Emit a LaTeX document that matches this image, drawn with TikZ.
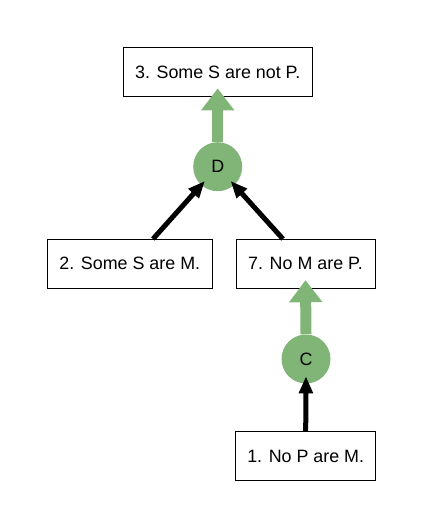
\documentclass[tikz,border=0pt]{standalone}
\usepackage{fontspec}
\setmainfont{Liberation Sans}
\usetikzlibrary{arrows.meta,calc}
\definecolor{gr}{HTML}{80B577}
\begin{document}
\begin{tikzpicture}[x=0.75pt,y=-0.75pt,
  every node/.style={font=\fontsize{13.4}{16}\selectfont},
  box/.style={draw=black,line width=0.75pt,minimum height=36.5pt,inner sep=0pt,fill=white},
  rule/.style={circle,fill=gr,minimum size=36.75pt,inner sep=0pt},
  garrow/.style={draw=gr,line width=8.25pt,-{Triangle[length=16.5pt,width=24pt]}},
  barrow/.style={draw=black,line width=3.75pt,-{Triangle[length=12.75pt,width=10pt]}}]
\useasboundingbox (0,0) rectangle (424,528);
\node[box,minimum width=141.75pt] (n3) at (217.7,72) {3. Some S are not P.};
\node[rule] (D) at (217.7,166.7) {D};
\node[box,minimum width=123.75pt] (n2) at (129.8,263.8) {2. Some S are M.};
\node[box,minimum width=104.25pt] (n7) at (305.5,263.8) {7. No M are P.};
\node[rule] (C) at (306,359) {C};
\node[box,minimum width=105pt] (n1) at (305.7,456) {1. No P are M.};
\coordinate (a2) at ([xshift=17.4pt]n2.north);
\coordinate (a7) at ([xshift=-16.9pt]n7.north);
\draw[garrow] (D.north) -- ([yshift=6.3pt]n3.south);
\draw[garrow] (C.north) -- ([yshift=6.3pt]n7.south);
\draw[barrow] (a2) -- ($(D.center)!14.4pt!(a2)$);
\draw[barrow] (a7) -- ($(D.center)!14.4pt!(a7)$);
\draw[barrow] (n1.north) -- ([yshift=5.6pt]C.south);
\end{tikzpicture}
\end{document}
